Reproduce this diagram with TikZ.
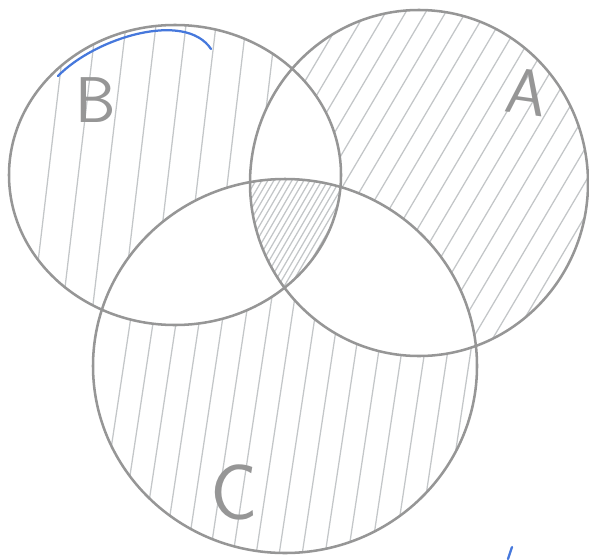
\documentclass[tikz,border=0pt]{standalone}
\usepackage{tikz}
\usetikzlibrary{positioning,calc}

\definecolor{pencil}{RGB}{150,150,150}
\definecolor{lightpencil}{RGB}{195,198,200}
\definecolor{inkblue}{RGB}{70,120,220}

\tikzset{
  outline/.style={draw=pencil, line width=1.8pt},
  hatch/.style={lightpencil, line width=0.9pt, line cap=round},
  letter/.style={text=pencil, font=\sffamily\fontsize{46}{46}\selectfont, inner sep=0pt},
}

% the three sets
\def\setB{(175,175) ellipse [x radius=166, y radius=150]}
\def\setA{(419,183) ellipse [x radius=169, y radius=173]}
\def\setC{(285,366) ellipse [x radius=192, y radius=187]}
\def\everywhere{(-50,-50) rectangle (650,620)}

\begin{document}
\begin{tikzpicture}[x=0.025cm, y=-0.025cm]
  \useasboundingbox (0,0) rectangle (589,559);

  % B only
  \begin{scope}[even odd rule]
    \clip \setB;
    \clip \everywhere \setA;
    \clip \everywhere \setC;
    \foreach \x in {30,60,...,340}
      \draw[hatch] (\x,330) -- (\x+36,25);
  \end{scope}

  % A only
  \begin{scope}[even odd rule]
    \clip \setA;
    \clip \everywhere \setB;
    \clip \everywhere \setC;
    \foreach \x in {120,140,...,600}
      \draw[hatch] (\x,360) -- (\x+210,5);
  \end{scope}

  % C only
  \begin{scope}[even odd rule]
    \clip \setC;
    \clip \everywhere \setA;
    \clip \everywhere \setB;
    \foreach \x in {95,118,...,480}
      \draw[hatch] (\x,555) -- (\x+40,290);
  \end{scope}

  % A, B and C
  \begin{scope}
    \clip \setA;
    \clip \setB;
    \clip \setC;
    \foreach \x in {180,186,...,360}
      \draw[hatch] (\x,290) -- (\x+70,170);
  \end{scope}

  \draw[outline] \setB;
  \draw[outline] \setA;
  \draw[outline] \setC;

  \node[letter] (labB) at (96,100) {B};
  \node[letter, rotate=-8] (labA) at (527,92) {A};
  \node[letter, font=\sffamily\fontsize{56}{56}\selectfont] (labC) at (234,492) {C};

  \draw[inkblue, line width=1.6pt, line cap=round]
    (58,76) .. controls (95,38) and (185,10) .. (211,49);
  \draw[inkblue, line width=1.6pt, line cap=round] (508,559) -- (512,547);
\end{tikzpicture}
\end{document}
